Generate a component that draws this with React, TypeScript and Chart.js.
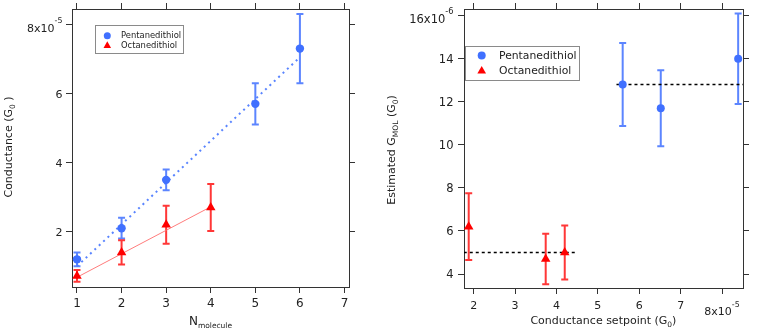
import React, { useEffect, useRef } from "react";
import { Chart, registerables } from "chart.js";

Chart.register(...registerables);

// ---------------- data: left panel ----------------
const seriesNames = ["Pentanedithiol", "Octanedithiol"];

const pentaN = [1, 2, 3, 5, 6];
const pentaConductance = [1.2e-5, 2.1e-5, 3.5e-5, 5.7e-5, 7.3e-5];
const pentaConductanceErr = [0.2e-5, 0.3e-5, 0.3e-5, 0.6e-5, 1.0e-5];

const octaN = [1, 2, 3, 4];
const octaConductance = [0.72e-5, 1.4e-5, 2.2e-5, 2.7e-5];
const octaConductanceErr = [0.17e-5, 0.35e-5, 0.55e-5, 0.68e-5];

const pentaFitN = [1, 6];
const pentaFitConductance = [1.0e-5, 7.05e-5];
const octaFitN = [1, 4];
const octaFitConductance = [0.68e-5, 2.72e-5];

const leftXTicks = [1, 2, 3, 4, 5, 6, 7];
const leftXTickLabels = ["1", "2", "3", "4", "5", "6", "7"];
const leftYTicks = [2e-5, 4e-5, 6e-5, 8e-5];
const leftYTickLabels = ["2", "4", "6", "8x10^-5"];

// ---------------- data: right panel ----------------
const pentaSetpoint = [5.6e-5, 6.52e-5, 8.39e-5];
const pentaGmol = [12.8e-6, 11.7e-6, 14.0e-6];
const pentaGmolErr = [1.93e-6, 1.77e-6, 2.1e-6];

const octaSetpoint = [1.88e-5, 3.74e-5, 4.2e-5];
const octaGmol = [6.2e-6, 4.7e-6, 5.0e-6];
const octaGmolErr = [1.55e-6, 1.17e-6, 1.25e-6];

const pentaMeanSetpoint = [5.45e-5, 8.51e-5];
const pentaMeanGmol = [12.8e-6, 12.8e-6];
const octaMeanSetpoint = [1.76e-5, 4.51e-5];
const octaMeanGmol = [5.0e-6, 5.0e-6];

const rightXTicks = [2e-5, 3e-5, 4e-5, 5e-5, 6e-5, 7e-5, 8e-5];
const rightXTickLabels = ["2", "3", "4", "5", "6", "7", "8x10^-5"];
const rightYTicks = [4e-6, 6e-6, 8e-6, 10e-6, 12e-6, 14e-6, 16e-6];
const rightYTickLabels = ["4", "6", "8", "10", "12", "14", "16x10^-6"];

// ---------------- styles ----------------
const FONT = "'DejaVu Sans', 'Liberation Sans', sans-serif";
const BLUE = "rgb(64,112,255)";
const BLUE_ERR = "rgba(64,112,255,0.85)";
const BLUE_FIT = "rgba(80,125,255,0.95)";
const RED = "rgb(255,0,0)";
const RED_ERR = "rgba(255,20,20,0.85)";
const RED_FIT = "rgba(255,110,110,0.9)";
const AXIS = "#333";
const TEXT = "#222";

const pts = (xs: number[], ys: number[]) => xs.map((x, i) => ({ x, y: ys[i] }));

function axis(position: string, min: number, max: number, ticks: number[], size: number) {
  const vertical = position === "left" || position === "right";
  return {
    type: "linear",
    position,
    min,
    max,
    afterBuildTicks: (s: any) => {
      s.ticks = ticks.map((v) => ({ value: v }));
    },
    afterFit: (s: any) => {
      if (vertical) s.width = size;
      else s.height = size;
    },
    grid: {
      display: true,
      drawOnChartArea: false,
      drawTicks: true,
      tickLength: 6,
      color: AXIS,
      lineWidth: 1,
    },
    border: { display: true, color: AXIS, width: 1 },
    ticks: { display: false, autoSkip: false },
    title: { display: false },
  };
}

// Tick labels with real superscripts ("8x10^-5"), placed from the library's scales.
type TickSpec = {
  xTicks: number[];
  xLabels: string[];
  xFont: number;
  xTop: number;
  yTicks: number[];
  yLabels: string[];
  yFont: number;
  yGap: number;
};

const tickLabelPlugin = (spec: TickSpec) => ({
  id: "tickLabels",
  afterDraw(chart: any) {
    const ctx = chart.ctx;
    const xs = chart.scales.x;
    const ys = chart.scales.y;
    ctx.save();
    ctx.fillStyle = TEXT;
    ctx.textBaseline = "alphabetic";
    ctx.textAlign = "left";
    const measure = (label: string, f: number) => {
      const [main, sup] = label.split("^");
      const fs = f * 0.72;
      ctx.font = `${f}px ${FONT}`;
      const wm = ctx.measureText(main).width;
      let ws = 0;
      if (sup) {
        ctx.font = `${fs}px ${FONT}`;
        ws = ctx.measureText(sup).width;
      }
      return { main, sup, fs, wm, ws, w: wm + ws };
    };
    const draw = (m: any, f: number, x: number, base: number) => {
      ctx.font = `${f}px ${FONT}`;
      ctx.fillText(m.main, x, base);
      if (m.sup) {
        ctx.font = `${m.fs}px ${FONT}`;
        ctx.fillText(m.sup, x + m.wm, base - f * 0.78);
      }
    };
    // x axis (bottom)
    spec.xTicks.forEach((v, i) => {
      const f = spec.xFont;
      const m = measure(spec.xLabels[i], f);
      const px = xs.getPixelForValue(v);
      let base = spec.xTop + f * 0.729;
      if (m.sup) base = spec.xTop + m.fs * 0.729 + f * 0.78;
      draw(m, f, px - m.w / 2, base);
    });
    // y axis (left)
    spec.yTicks.forEach((v, i) => {
      const f = spec.yFont;
      const m = measure(spec.yLabels[i], f);
      const py = ys.getPixelForValue(v);
      let base = py + (f * 0.729) / 2;
      if (m.sup) {
        const top = f * 0.78 + m.fs * 0.729;
        base = py + top / 2;
      }
      draw(m, f, chart.chartArea.left - spec.yGap - m.w, base);
    });
    ctx.restore();
  },
});

const errorBarPlugin = (lineWidth: number, capHalf: number) => ({
  id: "errorBars",
  beforeDatasetsDraw(chart: any) {
    const ctx = chart.ctx;
    const xs = chart.scales.x;
    const ys = chart.scales.y;
    ctx.save();
    chart.data.datasets.forEach((ds: any) => {
      if (!ds.errors) return;
      ctx.strokeStyle = ds.errorColor;
      ctx.lineWidth = lineWidth;
      ds.data.forEach((p: any, i: number) => {
        const e = ds.errors[i];
        const px = xs.getPixelForValue(p.x);
        const yt = ys.getPixelForValue(p.y + e);
        const yb = ys.getPixelForValue(p.y - e);
        ctx.beginPath();
        ctx.moveTo(px, yt);
        ctx.lineTo(px, yb);
        ctx.moveTo(px - capHalf, yt);
        ctx.lineTo(px + capHalf, yt);
        ctx.moveTo(px - capHalf, yb);
        ctx.lineTo(px + capHalf, yb);
        ctx.stroke();
      });
    });
    ctx.restore();
  },
});

type LegendSpec = {
  x: number;
  y: number;
  w: number;
  h: number;
  markerX: number;
  textX: number;
  rows: number[];
  fontSize: number;
  r: number;
};

const boxLegendPlugin = (spec: LegendSpec) => ({
  id: "boxLegend",
  afterDraw(chart: any) {
    const ctx = chart.ctx;
    ctx.save();
    ctx.fillStyle = "#fff";
    ctx.fillRect(spec.x, spec.y, spec.w, spec.h);
    ctx.strokeStyle = "#8a8a8a";
    ctx.lineWidth = 1;
    ctx.strokeRect(Math.round(spec.x) + 0.5, Math.round(spec.y) + 0.5, spec.w, spec.h);
    const items = [
      { label: seriesNames[0], color: BLUE, shape: "circle" },
      { label: seriesNames[1], color: RED, shape: "triangle" },
    ];
    items.forEach((it, i) => {
      const cy = spec.rows[i];
      ctx.fillStyle = it.color;
      ctx.beginPath();
      if (it.shape === "circle") {
        ctx.arc(spec.markerX, cy, spec.r, 0, Math.PI * 2);
      } else {
        const r = spec.r * 1.25;
        ctx.moveTo(spec.markerX, cy - r);
        ctx.lineTo(spec.markerX + r * 0.866, cy + r * 0.5);
        ctx.lineTo(spec.markerX - r * 0.866, cy + r * 0.5);
        ctx.closePath();
      }
      ctx.fill();
      ctx.fillStyle = TEXT;
      ctx.font = `${spec.fontSize}px ${FONT}`;
      ctx.textAlign = "left";
      ctx.textBaseline = "middle";
      ctx.fillText(it.label, spec.textX, cy + 0.5);
    });
    ctx.restore();
  },
});

type Part = { t: string; size: number; dy?: number };
type RichTitle = { x: number; y: number; rotate: boolean; parts: Part[] };

const titlesPlugin = (titles: RichTitle[]) => ({
  id: "richTitles",
  afterDraw(chart: any) {
    const ctx = chart.ctx;
    titles.forEach((tt) => {
      ctx.save();
      ctx.translate(tt.x, tt.y);
      if (tt.rotate) ctx.rotate(-Math.PI / 2);
      ctx.fillStyle = TEXT;
      ctx.textBaseline = "alphabetic";
      ctx.textAlign = "left";
      const widths = tt.parts.map((p) => {
        ctx.font = `${p.size}px ${FONT}`;
        return ctx.measureText(p.t).width;
      });
      const total = widths.reduce((a, b) => a + b, 0);
      let x = -total / 2;
      tt.parts.forEach((p, i) => {
        ctx.font = `${p.size}px ${FONT}`;
        ctx.fillText(p.t, x, p.dy || 0);
        x += widths[i];
      });
      ctx.restore();
    });
  },
});

function buildLeft(): any {
  return {
    type: "scatter",
    data: {
      datasets: [
        {
          label: seriesNames[0],
          data: pts(pentaN, pentaConductance),
          pointStyle: "circle",
          pointRadius: 4.2,
          backgroundColor: BLUE,
          borderColor: BLUE,
          borderWidth: 0,
          showLine: false,
          errors: pentaConductanceErr,
          errorColor: BLUE_ERR,
          order: 0,
        },
        {
          label: seriesNames[1],
          data: pts(octaN, octaConductance),
          pointStyle: "triangle",
          pointRadius: 5.5,
          backgroundColor: RED,
          borderColor: RED,
          borderWidth: 0,
          showLine: false,
          errors: octaConductanceErr,
          errorColor: RED_ERR,
          order: 0,
        },
        {
          label: "fit1",
          data: pts(pentaFitN, pentaFitConductance),
          showLine: true,
          pointRadius: 0,
          borderColor: BLUE_FIT,
          borderWidth: 2,
          borderDash: [2, 4],
          order: 1,
        },
        {
          label: "fit2",
          data: pts(octaFitN, octaFitConductance),
          showLine: true,
          pointRadius: 0,
          borderColor: RED_FIT,
          borderWidth: 1,
          order: 1,
        },
      ],
    },
    options: {
      responsive: false,
      animation: false,
      events: [],
      layout: { padding: 0 },
      plugins: { legend: { display: false }, tooltip: { enabled: false } },
      scales: {
        x: axis("bottom", 0.888, 7.101, leftXTicks, 43),
        x2: axis("top", 0.888, 7.101, leftXTicks, 9),
        y: axis("left", 0.399e-5, 8.446e-5, leftYTicks, 72),
        y2: axis("right", 0.399e-5, 8.446e-5, leftYTicks, 31),
      },
    },
    plugins: [
      errorBarPlugin(2, 3.5),
      tickLabelPlugin({
        xTicks: leftXTicks,
        xLabels: leftXTickLabels,
        xFont: 12,
        xTop: 298,
        yTicks: leftYTicks,
        yLabels: leftYTickLabels,
        yFont: 11,
        yGap: 9.5,
      }),
      boxLegendPlugin({
        x: 95,
        y: 25,
        w: 88,
        h: 28,
        markerX: 107.3,
        textX: 121,
        rows: [35.7, 45.7],
        fontSize: 8.4,
        r: 3.5,
      }),
      titlesPlugin([
        {
          x: 210.5,
          y: 325,
          rotate: false,
          parts: [
            { t: "N", size: 12 },
            { t: "molecule", size: 7.5, dy: 3 },
          ],
        },
        {
          x: 11.5,
          y: 147,
          rotate: true,
          parts: [
            { t: "Conductance (G", size: 11 },
            { t: "0", size: 7.5, dy: 3 },
            { t: " )", size: 11 },
          ],
        },
      ]),
    ],
  };
}

function buildRight(): any {
  return {
    type: "scatter",
    data: {
      datasets: [
        {
          label: seriesNames[0],
          data: pts(pentaSetpoint, pentaGmol),
          pointStyle: "circle",
          pointRadius: 4,
          backgroundColor: BLUE,
          borderColor: BLUE,
          borderWidth: 0,
          showLine: false,
          errors: pentaGmolErr,
          errorColor: BLUE_ERR,
          order: 0,
        },
        {
          label: seriesNames[1],
          data: pts(octaSetpoint, octaGmol),
          pointStyle: "triangle",
          pointRadius: 5.5,
          backgroundColor: RED,
          borderColor: RED,
          borderWidth: 0,
          showLine: false,
          errors: octaGmolErr,
          errorColor: RED_ERR,
          order: 0,
        },
        {
          label: "mean1",
          data: pts(pentaMeanSetpoint, pentaMeanGmol),
          showLine: true,
          pointRadius: 0,
          borderColor: "#000",
          borderWidth: 1.5,
          borderDash: [3, 3],
          order: 1,
        },
        {
          label: "mean2",
          data: pts(octaMeanSetpoint, octaMeanGmol),
          showLine: true,
          pointRadius: 0,
          borderColor: "#000",
          borderWidth: 1.5,
          borderDash: [3, 3],
          order: 1,
        },
      ],
    },
    options: {
      responsive: false,
      animation: false,
      events: [],
      layout: { padding: 0 },
      plugins: { legend: { display: false }, tooltip: { enabled: false } },
      scales: {
        x: axis("bottom", 1.766e-5, 8.507e-5, rightXTicks, 42),
        x2: axis("top", 1.766e-5, 8.507e-5, rightXTicks, 9),
        y: axis("left", 3.35e-6, 16.31e-6, rightYTicks, 84),
        y2: axis("right", 3.35e-6, 16.31e-6, rightYTicks, 20),
      },
    },
    plugins: [
      errorBarPlugin(2, 3.5),
      tickLabelPlugin({
        xTicks: rightXTicks,
        xLabels: rightXTickLabels,
        xFont: 11,
        xTop: 301,
        yTicks: rightYTicks,
        yLabels: rightYTickLabels,
        yFont: 11.5,
        yGap: 10.5,
      }),
      boxLegendPlugin({
        x: 85,
        y: 46,
        w: 114,
        h: 34,
        markerX: 101.7,
        textX: 119,
        rows: [55.5, 71],
        fontSize: 10.8,
        r: 4,
      }),
      titlesPlugin([
        {
          x: 223.4,
          y: 324,
          rotate: false,
          parts: [
            { t: "Conductance setpoint (G", size: 11 },
            { t: "0", size: 7.5, dy: 3 },
            { t: ")", size: 11 },
          ],
        },
        {
          x: 15,
          y: 150,
          rotate: true,
          parts: [
            { t: "Estimated G", size: 11 },
            { t: "MOL", size: 7.5, dy: 3 },
            { t: " (G", size: 11 },
            { t: "0", size: 7.5, dy: 3 },
            { t: ")", size: 11 },
          ],
        },
      ]),
    ],
  };
}

function ChartCanvas({ left, width, height, build }: { left: number; width: number; height: number; build: () => any }) {
  const ref = useRef<HTMLCanvasElement | null>(null);
  useEffect(() => {
    if (!ref.current) return;
    const chart = new Chart(ref.current, build());
    return () => chart.destroy();
  }, []);
  return (
    <canvas
      ref={ref}
      width={width}
      height={height}
      style={{ position: "absolute", left, top: 0, width, height, display: "block" }}
    />
  );
}

export default function App() {
  return (
    <div style={{ position: "fixed", left: 0, top: 0, width: 763, height: 330, background: "#fff", overflow: "hidden" }}>
      <ChartCanvas left={0} width={380} height={330} build={buildLeft} />
      <ChartCanvas left={380} width={383} height={330} build={buildRight} />
    </div>
  );
}
